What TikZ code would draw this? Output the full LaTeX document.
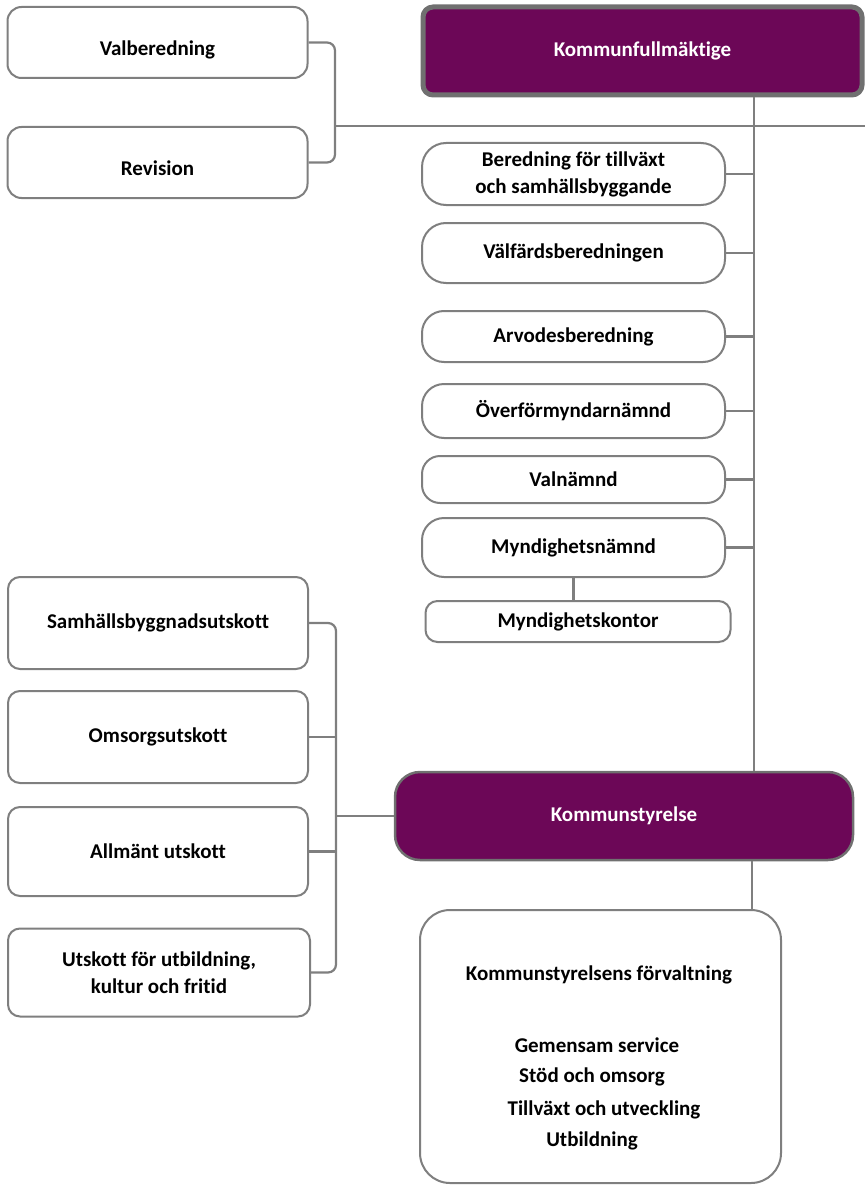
\documentclass[tikz,border=0pt]{standalone}
\usepackage{fontspec}
\setmainfont{Carlito}[Ligatures=NoCommon]
\definecolor{plum}{HTML}{6C0757}
\definecolor{linegray}{HTML}{7F7F7F}
\definecolor{rimgray}{HTML}{707070}

\begin{document}
\begin{tikzpicture}[%
	x=1pt, y=-1pt,%
	font=\fontsize{21}{27}\selectfont\bfseries,%
	unit/.style ={draw=linegray, line width=2pt, fill=white, rounded corners=#1, inner sep=0pt, align=center},%
	unit/.default=12,%
	head/.style ={unit=#1, fill=plum, draw=rimgray, text=white},%
	low/.style ={text height=26pt, text depth=0pt},%
	link/.style ={draw=linegray, line width=2.2pt},%
	]
\useasboundingbox (0,0) rectangle (865,1185);
%%% left top
	\node [unit=14, low, minimum width=300, minimum height=71] (valb) at (157.5,42.5) {Valberedning};
	\node [unit=14, low, minimum width=300, minimum height=71] (revi) at (157.5,162.5) {Revision};
%%% council
	\node [head=10, line width=5pt, minimum width=439, minimum height=88] (kf) at (642.5,51) {Kommunfullmäktige};
	\node [unit=24, minimum width=303, minimum height=62] (bered) at (573.5,174) {Beredning för tillväxt\\och samhällsbyggande};
	\node [unit=24, minimum width=303, minimum height=60] (valf) at (573.5,253) {Välfärdsberedningen};
	\node [unit=22, minimum width=303, minimum height=51] (arvo) at (573.5,336.5) {Arvodesberedning};
	\node [unit=22, minimum width=303, minimum height=54] (overf) at (573.5,411) {Överförmyndarnämnd};
	\node [unit=18, minimum width=303, minimum height=47] (valn) at (573.5,479.5) {Valnämnd};
	\node [unit=22, minimum width=303, minimum height=59] (myndn) at (573.5,547.5) {Myndighetsnämnd};
	\node [unit=12, minimum width=305, minimum height=41] (myndk) at (578,621.5) {Myndighetskontor};
%%% committees
	\node [unit, minimum width=300, minimum height=92] (samh) at (158,623) {Samhällsbyggnadsutskott};
	\node [unit, minimum width=300, minimum height=92] (omso) at (158,737) {Omsorgsutskott};
	\node [unit, minimum width=300, minimum height=89] (allm) at (158,851.5) {Allmänt utskott};
	\node [unit, minimum width=302, minimum height=88] (utsk) at (159,972.5) {Utskott för utbildning,\\kultur och fritid};
%%% board
	\node [head=25, line width=2.5pt, minimum width=458, minimum height=88] (ks) at (624,816) {Kommunstyrelse};
	\node [unit=30, minimum width=361, minimum height=273] (forv) at (600.5,1046.5) {};
	\node (forvt) at (599,975) {Kommunstyrelsens förvaltning};
	\node (gem) at (597,1045) {Gemensam service};
	\node (stod) at (592,1077) {Stöd och omsorg};
	\node (tillv) at (604,1110) {Tillväxt och utveckling};
	\node (utb) at (592,1141) {Utbildning};
%%% lines
	\coordinate (kfsplit) at (335,126);
	\coordinate (kfrim) at (865,126);
	\coordinate (trunk) at (754,0);
	\coordinate (kssplit) at (336,816);
	\coordinate (kstrunk) at (752,0);
	\draw [link, rounded corners=8] (valb.east) -| (kfsplit) |- (revi.east);
	\draw [link] (kfsplit) -- (kfrim);
	\draw [link] (kf.south -| trunk) -- (ks.north -| trunk);
	\foreach \n in {bered,valf,arvo,overf,valn,myndn}
		{\draw [link] (\n.east) -- (\n.east -| trunk);}
	\draw [link] (myndn.south) -- (myndn.south |- myndk.north);
	\draw [link, rounded corners=8] (samh.east) -| (kssplit) |- (utsk.east);
	\foreach \n in {omso,allm}
		{\draw [link] (\n.east) -- (\n.east -| kssplit);}
	\draw [link] (kssplit) -- (ks.west);
	\draw [link] (ks.south -| kstrunk) -- (forv.north -| kstrunk);
%%% lines
\end{tikzpicture}
\end{document}
